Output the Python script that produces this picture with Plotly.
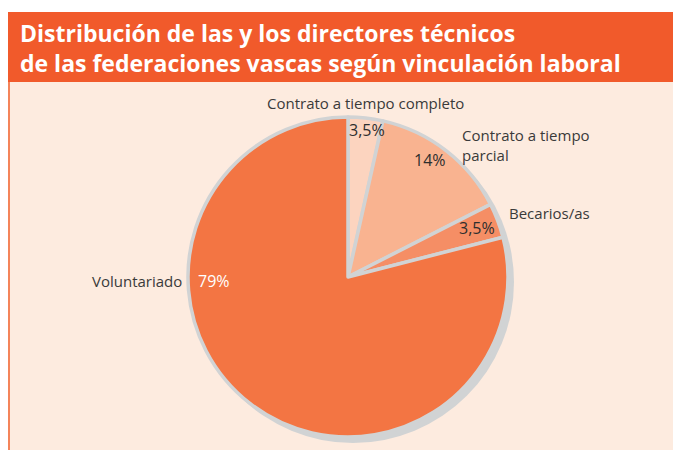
import plotly.graph_objects as go

# ---- data ----
categories = ["Contrato a tiempo completo", "Contrato a tiempo parcial", "Becarios/as", "Voluntariado"]
values = [3.5, 14, 3.5, 79]
label_text = ["Contrato a tiempo completo", "Contrato a tiempo<br>parcial", "Becarios/as", "Voluntariado"]
title_text = "Distribución de las y los directores técnicos<br>de las federaciones vascas según vinculación laboral"

# ---- styles ----
W, H = 681, 450
OFF = 8  # page body margin
slice_colors = ["#FCD4BF", "#F9B390", "#F58E65", "#F37543"]
shadow_color = "#D1D3D4"
header_color = "#F15A2B"
panel_color = "#FDEBDF"
text_color = "#3A3A3A"
FONT = "Open Sans, Noto Sans, sans-serif"

def px(x):
    return (x - OFF) / W

def py(y):
    return 1 - (y - OFF) / H

cx, cy, r = 348, 277, 160
sx, sy, sr = 353, 282, 161

fig = go.Figure()
# shadow pie
fig.add_trace(go.Pie(
    values=[1], labels=["shadow"], marker=dict(colors=[shadow_color], line=dict(width=0)),
    textinfo="none", hoverinfo="skip", showlegend=False, sort=False,
    domain=dict(x=[px(sx - sr), px(sx + sr)], y=[py(sy + sr), py(sy - sr)]),
))
# main pie
fig.add_trace(go.Pie(
    values=values, labels=categories, sort=False, direction="clockwise", rotation=0,
    marker=dict(colors=slice_colors, line=dict(color=shadow_color, width=3.5)),
    textinfo="none", showlegend=False,
    domain=dict(x=[px(cx - r), px(cx + r)], y=[py(cy + r), py(cy - r)]),
))

shapes = [
    dict(type="rect", xref="paper", yref="paper", x0=px(8), x1=1, y0=0, y1=py(82),
         fillcolor=panel_color, line=dict(width=0), layer="below"),
    dict(type="rect", xref="paper", yref="paper", x0=px(8), x1=1, y0=py(82), y1=py(12),
         fillcolor=header_color, line=dict(width=0), layer="below"),
    dict(type="rect", xref="paper", yref="paper", x0=px(8), x1=px(10), y0=0, y1=py(82),
         fillcolor="#F4845A", line=dict(width=0), layer="below"),
]

def fmt(v):
    return (f"{v:g}").replace(".", ",") + "%"

annotations = [
    dict(text=title_text, x=px(18), y=py(48), xanchor="left", yanchor="middle", align="left",
         showarrow=False, font=dict(family=FONT, size=23, color="white", weight="bold")),
]
# category labels: (x, y, xanchor)
label_pos = [(265, 103, "left"), (460, 145, "left"), (507, 213, "left"), (184, 281, "right")]
for t, (x, y, xa) in zip(label_text, label_pos):
    annotations.append(dict(text=t, x=px(x), y=py(y), xanchor=xa, yanchor="middle", align="left",
                            showarrow=False, font=dict(family=FONT, size=15, color=text_color)))
# percentage labels
pct_pos = [(367, 130), (430, 160), (477, 228), (214, 281)]
pct_colors = ["#2E2E2E", "#2E2E2E", "#2E2E2E", "white"]
for v, (x, y), c in zip(values, pct_pos, pct_colors):
    annotations.append(dict(text=fmt(v), x=px(x), y=py(y), xanchor="center", yanchor="middle",
                            showarrow=False, font=dict(family=FONT, size=16, color=c)))

fig.update_layout(
    width=W, height=H, margin=dict(l=0, r=0, t=0, b=0),
    paper_bgcolor="white", plot_bgcolor="rgba(0,0,0,0)",
    shapes=shapes, annotations=annotations, showlegend=False,
)
fig.write_html("out.html")
